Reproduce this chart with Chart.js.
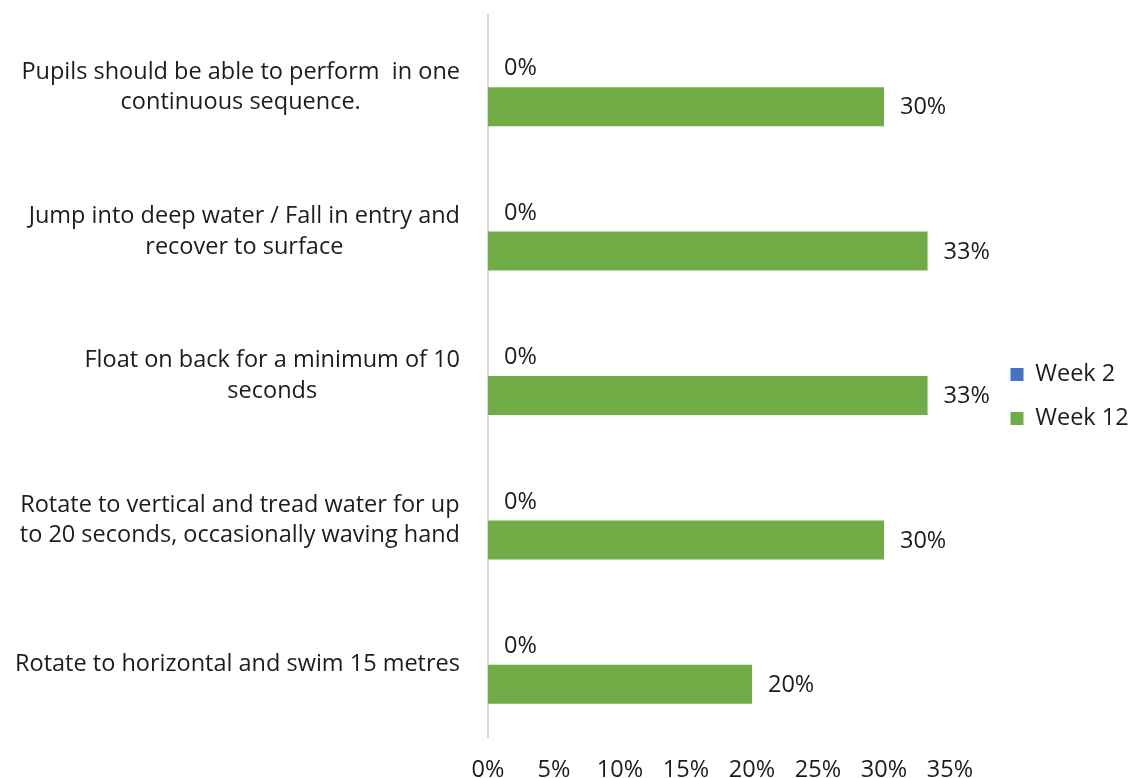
<!DOCTYPE html>
<html>
<head>
<meta charset="utf-8">
<script src="https://cdn.jsdelivr.net/npm/chart.js@4/dist/chart.umd.min.js"></script>
<style>
html,body{margin:0;padding:0;background:#fff;}
#wrap{width:1132px;height:778px;position:relative;}
</style>
</head>
<body>
<div id="wrap"><canvas id="c"></canvas></div>
<script>
const categories = [
  ["Pupils should be able to perform  in one", "continuous sequence."],
  ["Jump into deep water / Fall in entry and", "recover to surface"],
  ["Float on back for a minimum of 10", "seconds"],
  ["Rotate to vertical and tread water for up", "to 20 seconds, occasionally waving hand"],
  ["Rotate to horizontal and swim 15 metres"]
];
const seriesNames = ["Week 2", "Week 12"];
const week2 = [0, 0, 0, 0, 0];
const week12 = [30, 33.3, 33.3, 30, 20];
const xTicks = [0, 5, 10, 15, 20, 25, 30, 35];

const FONT = "'Open Sans', sans-serif";
const FS = 23.5;
const TXT = '#1c1c1c';

const catLabelPlugin = {
  id: 'catLabels',
  afterLayout(chart) {
    const leg = chart.legend;
    if (leg) {
      const dx = 990 - leg.left;
      leg.left += dx; leg.right += dx;
    }
  },
  afterDraw(chart) {
    const ctx = chart.ctx;
    const y = chart.scales.y;
    const axisX = chart.chartArea.left;
    ctx.save();
    ctx.font = FS + 'px ' + FONT;
    ctx.fillStyle = TXT;
    ctx.textAlign = 'center';
    ctx.textBaseline = 'middle';
    const lh = 30.5;
    categories.forEach((lines, i) => {
      const cy = y.getPixelForTick(i);
      const w = Math.max(...lines.map(l => ctx.measureText(l).width));
      const cx = axisX - 28 - w / 2;
      const top = cy - (lines.length - 1) * lh / 2;
      lines.forEach((l, j) => ctx.fillText(l, cx, top + j * lh));
    });
    ctx.restore();
  }
};

const valueLabelPlugin = {
  id: 'valueLabels',
  afterDatasetsDraw(chart) {
    const ctx = chart.ctx;
    ctx.save();
    ctx.font = FS + 'px ' + FONT;
    ctx.fillStyle = TXT;
    ctx.textAlign = 'left';
    ctx.textBaseline = 'middle';
    chart.data.datasets.forEach((ds, di) => {
      const meta = chart.getDatasetMeta(di);
      meta.data.forEach((bar, i) => {
        ctx.fillText(Math.round(ds.data[i]) + '%', bar.x + 16, bar.y + 1);
      });
    });
    ctx.restore();
  }
};

new Chart(document.getElementById('c'), {
  type: 'bar',
  data: {
    labels: categories,
    datasets: [
      { label: seriesNames[0], data: week2, backgroundColor: '#4472C4', categoryPercentage: 0.54, barPercentage: 1 },
      { label: seriesNames[1], data: week12, backgroundColor: '#70AD47', categoryPercentage: 0.54, barPercentage: 1 }
    ]
  },
  options: {
    indexAxis: 'y',
    responsive: true,
    maintainAspectRatio: false,
    animation: false,
    layout: { padding: { top: 15, right: 2, left: 0, bottom: 0 } },
    plugins: {
      legend: {
        position: 'right',
        labels: {
          font: { family: FONT, size: FS },
          color: TXT,
          boxWidth: 13,
          boxHeight: 13,
          padding: 20.5,
          useBorderRadius: false
        }
      },
      tooltip: { enabled: false }
    },
    scales: {
      x: {
        min: 0,
        max: 35,
        afterBuildTicks(scale) { scale.ticks = xTicks.map(v => ({ value: v })); },
        afterFit(scale) { scale.paddingRight = 182; scale.height = 41; },
        grid: { display: false, drawTicks: false },
        border: { display: false },
        ticks: {
          font: { family: FONT, size: FS },
          color: TXT,
          padding: 19,
          maxRotation: 0,
          callback: v => v + '%'
        }
      },
      y: {
        afterFit(scale) { scale.width = 488; },
        grid: { display: false, drawTicks: false },
        border: { display: true, color: '#d9d9d9', width: 2 },
        ticks: { display: false }
      }
    }
  },
  plugins: [catLabelPlugin, valueLabelPlugin]
});
</script>
</body>
</html>
